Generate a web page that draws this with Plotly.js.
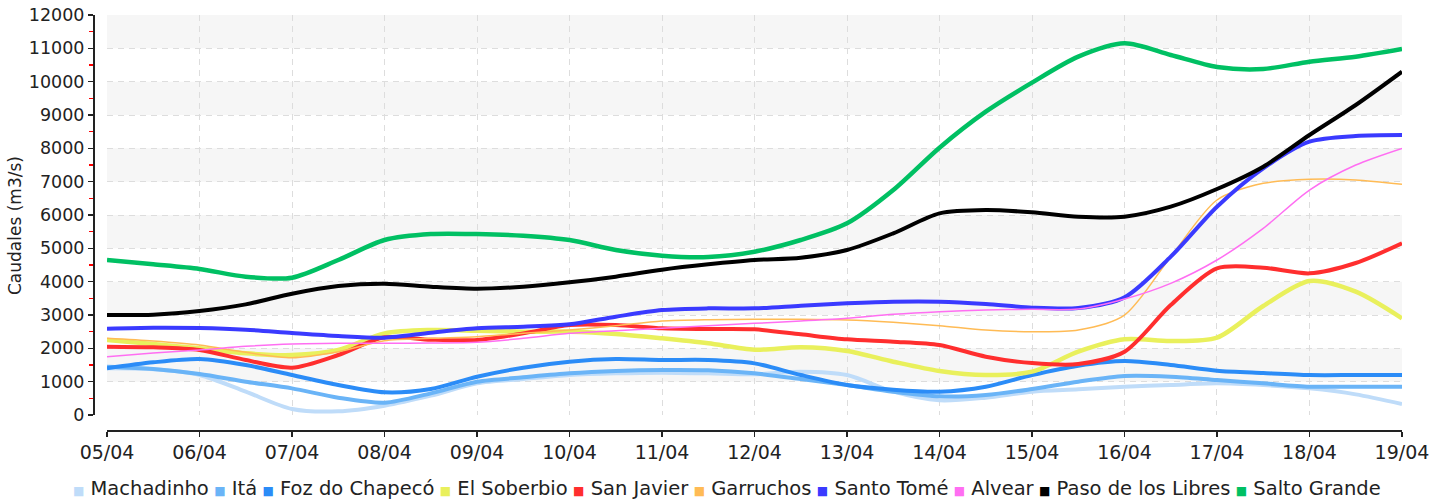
<!DOCTYPE html>
<html><head><meta charset="utf-8">
<script src="https://cdn.plot.ly/plotly-3.0.1.min.js"></script>
<style>html,body{margin:0;padding:0;background:#fff}#chart{width:1450px;height:502px}</style>
</head><body><div id="chart"></div>
<script>
// ---- data (values every 12 hours from 05/04 00:00 to 19/04 00:00) ----
const startDate = '2024-04-05T00:00:00';
const stepHours = 12;
const dayLabels = ['05/04','06/04','07/04','08/04','09/04','10/04','11/04','12/04','13/04','14/04','15/04','16/04','17/04','18/04','19/04'];
const seriesNames = ['Machadinho','Itá','Foz do Chapecó','El Soberbio','San Javier','Garruchos','Santo Tomé','Alvear','Paso de los Libres','Salto Grande'];

const machadinho = [1400,1370,1200,700,180,110,280,580,950,1080,1200,1250,1270,1250,1220,1300,1200,700,440,520,700,770,850,900,950,900,800,620,330];
const ita        = [1450,1380,1230,1000,800,520,370,650,1000,1130,1250,1320,1350,1340,1250,1080,900,700,560,600,780,1000,1170,1150,1050,950,850,850,850];
const foz        = [1400,1580,1680,1500,1200,900,680,780,1150,1420,1600,1680,1650,1650,1550,1200,900,760,700,850,1200,1480,1620,1500,1330,1260,1200,1200,1200];
const soberbio   = [2250,2130,2000,1850,1800,1950,2450,2550,2530,2500,2500,2430,2300,2150,1960,2030,1920,1600,1320,1200,1300,1900,2270,2220,2320,3270,4020,3700,2900];
const sanJavier  = [2050,2030,1950,1650,1420,1800,2330,2260,2250,2450,2700,2700,2600,2580,2570,2420,2270,2200,2100,1750,1560,1530,1900,3300,4400,4420,4250,4560,5150];
const garruchos  = [2300,2220,2100,1880,1720,1900,2230,2300,2350,2450,2550,2680,2820,2860,2870,2870,2850,2780,2680,2550,2500,2550,3000,4750,6450,6950,7070,7050,6920];
const santoTome  = [2590,2620,2610,2560,2460,2370,2320,2470,2600,2650,2720,2950,3150,3200,3200,3280,3350,3400,3400,3330,3220,3210,3530,4750,6250,7400,8200,8370,8400];
const alvear     = [1750,1860,1950,2060,2130,2150,2150,2160,2180,2300,2450,2530,2600,2680,2750,2820,2900,3020,3100,3150,3170,3180,3480,3950,4650,5600,6750,7500,8000];
const paso       = [3000,3010,3120,3320,3640,3870,3940,3850,3790,3850,3980,4150,4360,4520,4650,4720,4950,5450,6050,6150,6080,5950,5950,6250,6780,7450,8400,9300,10300];
const salto      = [4650,4520,4380,4150,4120,4650,5250,5430,5430,5380,5250,4950,4780,4740,4900,5250,5750,6750,8020,9100,9970,10750,11150,10800,10440,10380,10600,10750,10980];

// ---- styles ----
const seriesValues = [machadinho, ita, foz, soberbio, sanJavier, garruchos, santoTome, alvear, paso, salto];
const seriesColors = ['#bfdcf9','#6ab4f7','#2b8cf7','#e9f05c','#ff2e2e','#ffbb55','#3a3aff','#ff6ef2','#000000','#00c063'];
const seriesWidths = [4,4,4,4.5,4,1.5,4,1.5,4,4.5];

function pad(n){return (n<10?'0':'')+n;}
function isoAt(hours){
  const d = new Date(Date.parse(startDate+'Z') + hours*3600000);
  return d.getUTCFullYear()+'-'+pad(d.getUTCMonth()+1)+'-'+pad(d.getUTCDate())+' '+pad(d.getUTCHours())+':00';
}
const times = machadinho.map((_, i) => isoAt(i*stepHours));
const tickDates = dayLabels.map((_, i) => isoAt(i*24));

const traces = seriesValues.map((vals, k) => ({
  type:'scatter', mode:'lines', name:seriesNames[k], x:times, y:vals,
  line:{color:seriesColors[k], width:seriesWidths[k], shape:'spline', smoothing:0.8},
  hoverinfo:'skip', showlegend:false
}));

// alternating background bands
const shapes = [];
for (let v = 1000; v < 12000; v += 2000) {
  shapes.push({type:'rect', xref:'x domain', yref:'y', x0:0, x1:1, y0:v, y1:v+1000,
    fillcolor:'#f6f6f6', line:{width:0}, layer:'below'});
}

// custom legend as real text
const legendText = seriesNames.map((n, k) =>
  '<span style="color:'+seriesColors[k]+';font-size:12px">\u25A0</span>\u00A0' + n
).join('<span style="font-size:17px">\u00A0</span>');

const layout = {
  width:1450, height:502,
  margin:{l:93, r:48, t:15, b:72, pad:0},
  paper_bgcolor:'#ffffff', plot_bgcolor:'rgba(0,0,0,0)',
  font:{family:'DejaVu Sans, Verdana, sans-serif', size:18, color:'#222'},
  showlegend:false,
  shapes:shapes,
  xaxis:{
    type:'date', domain:[0.0107,1], range:[tickDates[0], tickDates[tickDates.length-1]],
    anchor:'free', position:0,
    showline:true, linecolor:'#222', linewidth:1.5,
    ticks:'outside', ticklen:5, tickcolor:'#222', tickwidth:1.5,
    tickvals:tickDates, ticktext:dayLabels,
    showgrid:true, gridcolor:'#dddddd', gridwidth:1, griddash:'6px,5px',
    zeroline:false, tickfont:{size:19}
  },
  yaxis:{
    domain:[0.0361,1], range:[0,12000], anchor:'free', position:0,
    showline:true, linecolor:'#222', linewidth:1.5,
    ticks:'outside', ticklen:5, tickcolor:'#222', tickwidth:1.5,
    tick0:0, dtick:1000, tickformat:'d',
    minor:{dtick:500, ticks:'outside', ticklen:4, tickcolor:'#ff0000', tickwidth:1.5, showgrid:false},
    showgrid:true, gridcolor:'#dddddd', gridwidth:1, griddash:'6px,5px',
    zeroline:false, tickfont:{size:17.5}
  },
  annotations:[
    {
      xref:'paper', yref:'paper', x:(727-93)/1309, y:-0.14, xanchor:'center', yanchor:'middle',
      showarrow:false, text:legendText, font:{size:19.5, color:'#222'}
    },
    {
      xref:'paper', yref:'paper', x:(15-93)/1309, y:(430-226)/415, xanchor:'center', yanchor:'middle',
      textangle:-90, showarrow:false, text:'Caudales (m3/s)', font:{size:17, color:'#222'}
    }
  ]
};

Plotly.newPlot('chart', traces, layout, {staticPlot:true, displayModeBar:false});
</script>
</body></html>
